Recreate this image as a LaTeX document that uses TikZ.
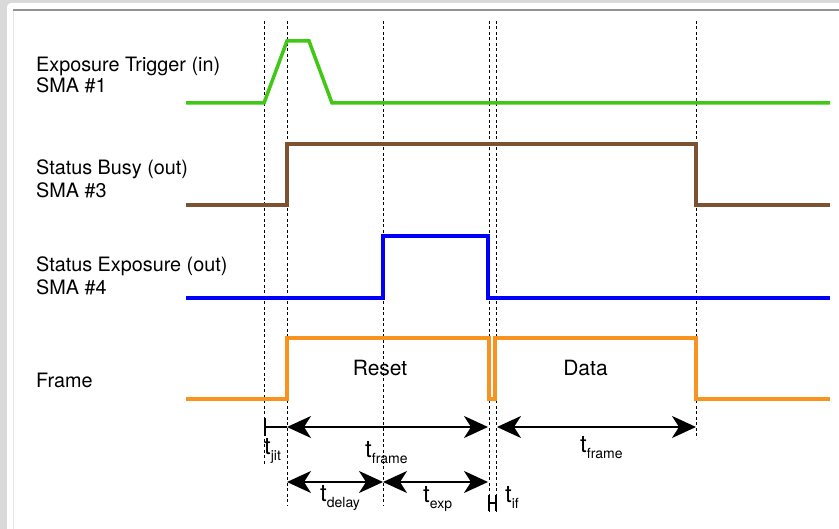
\documentclass[tikz,border=0pt]{standalone}
\usepackage{fontspec}
\setmainfont{TeX Gyre Heros}
\usetikzlibrary{arrows.meta}
\definecolor{trig}{RGB}{64,200,20}
\definecolor{busy}{RGB}{123,82,50}
\definecolor{expo}{RGB}{0,0,250}
\definecolor{frm}{RGB}{247,147,30}
\definecolor{panel}{RGB}{217,217,217}
\newcommand{\tsub}[1]{t\raisebox{-5.5pt}{\fontsize{14}{15}\selectfont #1}}
\begin{document}
\begin{tikzpicture}[x=1pt,y=-1pt,
    sig/.style={line width=3.5pt,line join=miter},
    guide/.style={line width=0.8pt,dash pattern=on 3pt off 2.5pt},
    dimline/.style={line width=2pt,{Stealth[length=24pt,width=22pt,inset=7pt]}-{Stealth[length=24pt,width=22pt,inset=7pt]}},
    lab/.style={anchor=base west,inner sep=0pt,font=\fontsize{19.8}{22}\selectfont},
    tl/.style={anchor=base west,inner sep=0pt,font=\fontsize{24}{26}\selectfont}]
  \useasboundingbox (0,0) rectangle (839,529);
  % window frame
  \fill[panel] (0,0) rectangle (839,529);
  \fill[white,rounded corners=4pt] (7,3) rectangle (850,540);
  \draw[gray!20,line width=1pt] (13,10) -- (13,529);
  \draw[gray!85,line width=1.5pt] (13,10) -- (839,10);
  % signal names
  \node[lab] (L1a) at (36,72) {Exposure Trigger (in)};
  \node[lab] (L1b) at (36,93) {SMA \#1};
  \node[lab] (L2a) at (36,175) {Status Busy (out)};
  \node[lab] (L2b) at (36,198) {SMA \#3};
  \node[lab] (L3a) at (36,272) {Status Exposure (out)};
  \node[lab] (L3b) at (36,295) {SMA \#4};
  \node[lab] (L4) at (36,388) {Frame};
  % time guides
  \foreach \n/\x/\y in {jit/264/466, a/287/506, b/383/506, c/489/512, d/496/512, e/696/439}{
    \draw[guide] (\x,21) coordinate (G\n) -- (\x,\y) coordinate (B\n);
  }
  % waveforms
  \draw[sig,trig] (186,103) -- (264,103) -- (287,41) -- (309,41) -- (332,103) -- (830,103);
  \draw[sig,busy] (186,205) -- (287,205) -- (287,144) -- (696,144) -- (696,205) -- (830,205);
  \draw[sig,expo] (186,298) -- (383,298) -- (383,236) -- (488,236) -- (488,298) -- (830,298);
  \draw[sig,frm] (186,399) -- (287,399) -- (287,338) -- (489,338) -- (489,399) -- (495,399)
    -- (495,338) -- (696,338) -- (696,399) -- (830,399);
  \node[anchor=base,font=\fontsize{21}{24}\selectfont] (reset) at (380,376) {Reset};
  \node[anchor=base,font=\fontsize{21}{24}\selectfont] (data) at (585.5,376) {Data};
  % timing intervals
  \foreach \n/\x/\y in {A0/264/427, A1/287/427, A2/488/427, A3/497/427, A4/696/427,
      D1/287/482, D2/383/482, D3/488/482, H1/489/503, H2/496/503,
      H1t/489/495, H1b/489/511, H2t/496/495, H2b/496/511}{
    \coordinate (\n) at (\x,\y);
  }
  \draw[line width=2pt,{Bar[width=18pt]}-] (A0) -- (A1);
  \draw[dimline] (A1) -- (A2);
  \draw[dimline] (A3) -- (A4);
  \draw[dimline] (D1) -- (D2);
  \draw[dimline] (D2) -- (D3);
  \draw[line width=1.3pt] (H1t) -- (H1b) (H2t) -- (H2b) (H1) -- (H2);
  \node[tl] (tjit) at (264,455) {\tsub{jit}};
  \node[tl] (tfr1) at (365,458) {\tsub{frame}};
  \node[tl] (tfr2) at (580,453) {\tsub{frame}};
  \node[tl] (tdel) at (320,502) {\tsub{delay}};
  \node[tl] (texp) at (423,503) {\tsub{exp}};
  \node[tl] (tif) at (505,503) {\tsub{if}};
\end{tikzpicture}
\end{document}
